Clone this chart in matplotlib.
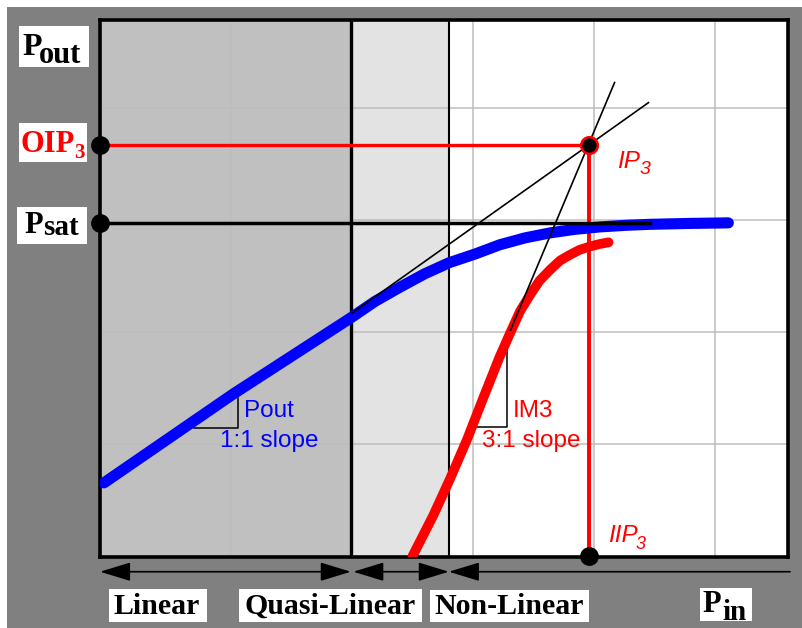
import matplotlib
matplotlib.use("Agg")
import matplotlib.pyplot as plt
from matplotlib.patches import Rectangle

# Pout and IM3 curves, Pin vs output level (10 units per grid square)
pin_out = [-0.5, 10.2, 20.0, 21.9, 24.0, 26.0, 28.0, 30.2, 32.2, 34.3,
           36.4, 38.4, 40.5, 42.6, 44.6, 47.9, 51.1]
pout = [6.54, 14.49, 21.35, 22.75, 24.04, 25.21, 26.19, 26.99, 27.80,
        28.42, 28.87, 29.18, 29.40, 29.54, 29.63, 29.71, 29.76]
pin_im3 = [25.0, 26.7, 28.1, 29.5, 30.8, 32.2, 33.1, 33.9, 34.7, 35.5, 36.4,
           37.2, 38.0, 38.8, 39.7, 40.5, 41.2]
im3 = [0.0, 3.6, 6.9, 10.4, 14.0, 17.8, 20.0, 21.9, 23.3, 24.6, 25.6, 26.4,
       26.9, 27.35, 27.66, 27.88, 28.02]

psat = 29.75
psat_end = 44.6
oip3 = 36.7
iip3 = 39.6
region_edges = [19.9, 28.0]   # linear | quasi-linear | non-linear

# extrapolated small-signal slopes
tan1_x, tan1_y = [20.0, 44.5], [21.7, 40.5]
tan3_x, tan3_y = [33.1, 41.7], [20.2, 42.3]

# slope triangles: (corner x, corner y, left x, top y)
tri_out = (10.6, 11.4, 6.9, 14.1)
tri_im3 = (32.8, 11.55, 30.0, 19.9)

grid_ticks = [10, 20, 30, 40, 50]
xmin, xmax = -0.83, 56.03
ymin, ymax = -0.04, 47.88
y_arrow = -1.4

W, H = 803, 628


def fxy(px, py):
    return px / W, 1 - py / H


fig = plt.figure(figsize=(W / 100, H / 100), dpi=100, facecolor="white")
fig.add_artist(Rectangle(fxy(7, 628), (W - 7) / W, (H - 7) / H,
                         transform=fig.transFigure, fc="#808080", ec="none", zorder=0))

ax = fig.add_axes([100 / W, 1 - 556.5 / H, 688 / W, 536.5 / H])
ax.set_xlim(xmin, xmax)
ax.set_ylim(ymin, ymax)
ax.set_facecolor("white")

ax.axvspan(xmin, region_edges[0], color="#c0c0c0", zorder=0.1, lw=0)
ax.axvspan(region_edges[0], region_edges[1], color="#e3e3e3", zorder=0.1, lw=0)

ax.set_xticks(grid_ticks)
ax.set_yticks(grid_ticks[:4])
ax.tick_params(length=0, labelbottom=False, labelleft=False)
ax.grid(True, color="#bdbdbd", lw=1.1)
ax.set_axisbelow(True)
for s in ax.spines.values():
    s.set_linewidth(2.6)
    s.set_color("black")

ax.axvline(region_edges[0], color="black", lw=2.4, zorder=2)
ax.axvline(region_edges[1], color="black", lw=1.5, zorder=2)

# OIP3 / IIP3 construction
ax.plot([xmin, iip3], [oip3, oip3], color="red", lw=2.4, zorder=3)
ax.plot([iip3, iip3], [0, oip3], color="red", lw=2.8, zorder=3)

ax.plot(pin_out, pout, color="blue", lw=8, solid_capstyle="round",
        solid_joinstyle="round", zorder=4)
ax.plot(pin_im3, im3, color="red", lw=7, solid_capstyle="round",
        solid_joinstyle="round", zorder=4)

ax.plot([xmin, psat_end], [psat, psat], color="black", lw=2.5, zorder=5)

ax.plot(tan1_x, tan1_y, color="black", lw=1.2, zorder=6)
ax.plot(tan3_x, tan3_y, color="black", lw=1.2, zorder=6)

for cx, cy, lx, ty in (tri_out, tri_im3):
    ax.plot([lx, cx, cx], [cy, cy, ty], color="black", lw=1.1, zorder=3)

ax.plot([xmin, xmin, iip3], [oip3, psat, 0], "o", color="black", ms=12.5,
        clip_on=False, zorder=7)
ax.plot([iip3], [oip3], "o", color="black", mec="red", mew=1.8, ms=12,
        clip_on=False, zorder=7)


def span_arrow(x0, x1, style):
    ax.annotate("", xy=(x1, y_arrow), xytext=(x0, y_arrow),
                arrowprops=dict(arrowstyle=style, color="black", lw=1.2,
                                shrinkA=0, shrinkB=0, mutation_scale=10),
                annotation_clip=False)


both = "<|-|>,head_length=1.9,head_width=0.58"
span_arrow(xmin, region_edges[0], both)
span_arrow(region_edges[0] + 0.2, region_edges[1], both)
span_arrow(region_edges[1], 56.2, "<|-,head_length=1.9,head_width=0.58")

# curve annotations
sans = dict(family="Liberation Sans", fontsize=17.5)
ax_txt = dict(transform=fig.transFigure, va="baseline", ha="left")
fig.text(*fxy(244, 417), "Pout", color="blue", **sans, **ax_txt)
fig.text(*fxy(220, 447), "1:1 slope", color="blue", **sans, **ax_txt)
fig.text(*fxy(513, 417), "IM3", color="red", **sans, **ax_txt)
fig.text(*fxy(482, 447), "3:1 slope", color="red", **sans, **ax_txt)
fig.text(*fxy(617, 168), "IP", color="red", style="italic", **sans, **ax_txt)
fig.text(*fxy(640, 174), "3", color="red", style="italic",
         family="Liberation Sans", fontsize=14, **ax_txt)
fig.text(*fxy(608, 542), "IIP", color="red", style="italic", **sans, **ax_txt)
fig.text(*fxy(636, 549), "3", color="red", style="italic",
         family="Liberation Sans", fontsize=13, **ax_txt)


def white_box(x0, y0, x1, y1):
    fig.add_artist(Rectangle(fxy(x0, y1), (x1 - x0) / W, (y1 - y0) / H,
                             transform=fig.transFigure, fc="white", ec="none", zorder=1))


def serif(px, py, s, size, color="black"):
    fig.text(*fxy(px, py), s, family="Liberation Serif", weight="bold",
             fontsize=size, color=color, zorder=2, **ax_txt)


# axis and level labels
white_box(19, 26, 89, 67)
serif(22, 55, "P", 23)
serif(39, 63, "out", 22)

white_box(19, 123, 87, 162)
serif(21, 152, "OIP", 22, "red")
serif(74, 158, "3", 15, "red")

white_box(17, 207, 87, 244)
serif(24, 233, "P", 22)
serif(43, 235, "sat", 21)

white_box(700, 588, 752, 621)
serif(702, 612, "P", 22)
serif(722, 620, "in", 21)

# region labels
white_box(109, 589, 207, 622)
serif(114, 614, "Linear", 21.5)
white_box(239, 589, 422, 622)
serif(245, 614, "Quasi-Linear", 21.5)
white_box(430, 590, 589, 622)
serif(434, 614, "Non-Linear", 21.5)

fig.savefig("out.png", dpi=100, facecolor=fig.get_facecolor())
